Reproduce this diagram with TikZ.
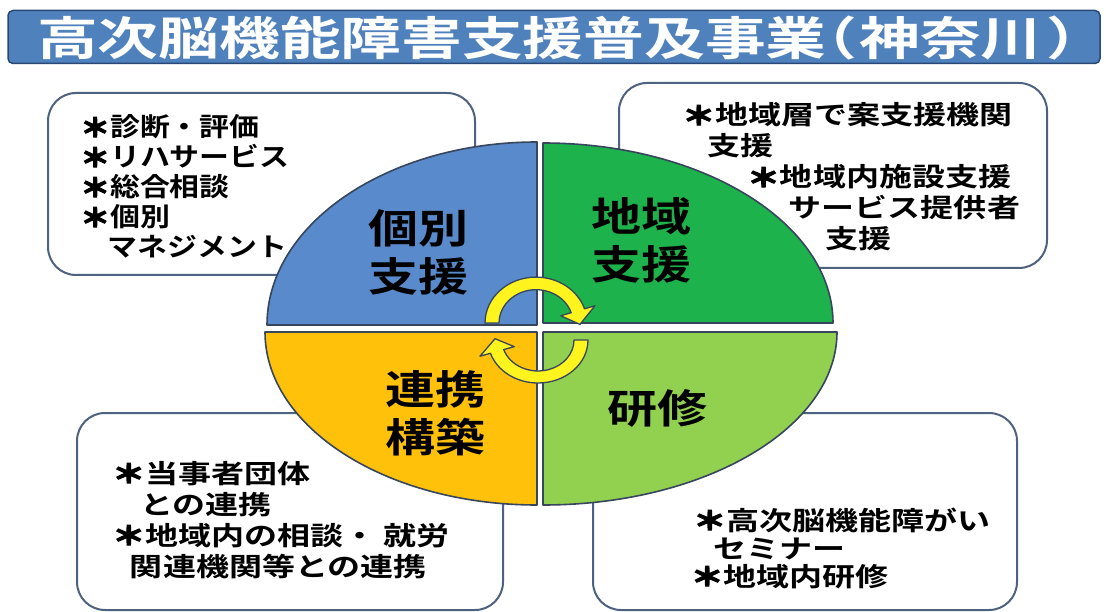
\documentclass[tikz,border=0pt]{standalone}
\usepackage{fontspec}
\setmainfont{Noto Sans CJK JP}[BoldFont={Noto Sans CJK JP Bold}]
\newfontfamily\astfont{Noto Sans CJK JP Bold}[FakeBold=4]
\usepackage{graphicx}
\definecolor{titlefill}{RGB}{79,129,189}
\definecolor{titleedge}{RGB}{42,72,118}
\definecolor{qblue}{RGB}{88,138,204}
\definecolor{qgreen}{RGB}{30,178,76}
\definecolor{qyellow}{RGB}{255,193,10}
\definecolor{qlight}{RGB}{146,208,80}
\definecolor{quadline}{RGB}{55,70,92}
\definecolor{boxline}{RGB}{78,98,128}
\definecolor{arrowfill}{RGB}{255,244,30}
\newcommand\ltext[2]{\scalebox{#1}[1]{\vtop{\lineskiplimit=-100pt\halign{##\hfil\cr#2\crcr}}}}
\newcommand\ctext[2]{\scalebox{#1}[1]{\vbox{\lineskiplimit=-100pt\halign{\hfil##\hfil\cr#2\crcr}}}}
\newcommand\myast{{\astfont ＊}}
\tikzset{
  titlebar/.style={draw=titleedge, line width=1.5pt, fill=titlefill, rounded corners=5pt, inner sep=0pt},
  infobox/.style={draw=boxline, line width=2pt, fill=white, rounded corners=28pt, inner sep=0pt},
  quad/.style={draw=quadline, line width=1.6pt, line join=round},
  cyc/.style={draw=quadline, line width=1.3pt, fill=arrowfill, line join=round},
  boxtext/.style={inner sep=0pt, anchor=base west, text=black},
  qlabel/.style={inner sep=0pt, text=black, font=\bfseries\fontsize{40}{48}\selectfont}
}
\begin{document}
\begin{tikzpicture}[x=1pt,y=-1pt]
\useasboundingbox (0,0) rectangle (1106,612);
\fill[white] (0,0) rectangle (1106,612);
% title
\node[titlebar, minimum width=1092pt, minimum height=53pt] (bar) at (554,37) {};
\node[inner sep=0pt, text=white, anchor=west, font=\bfseries\fontsize{46}{46}\selectfont] (ttl) at (37,38)
  {\scalebox{1.32}[1]{高次脳機能障害支援普及事業\kern-23pt（\kern2pt 神奈川\kern4pt ）\kern-25pt}};
% boxes
\node[infobox, minimum width=427pt, minimum height=182pt] (box1) at (261.5,184) {};
\node[infobox, minimum width=428pt, minimum height=185pt] (box2) at (833,175.5) {};
\node[infobox, minimum width=426pt, minimum height=197pt] (box3) at (290,511.5) {};
\node[infobox, minimum width=424pt, minimum height=197pt] (box4) at (805,511.5) {};
% quadrants
\path[quad, fill=qblue] (537,325) -- (267,325) arc[start angle=180, end angle=270, x radius=270, y radius=183] -- cycle;
\path[quad, fill=qgreen] (543,323) -- (543,143) arc[start angle=270, end angle=360, x radius=290, y radius=180] -- cycle;
\path[quad, fill=qyellow] (537,332) -- (537,505) arc[start angle=90, end angle=180, x radius=272, y radius=173] -- cycle;
\path[quad, fill=qlight] (543,332) -- (837,332) arc[start angle=0, end angle=90, x radius=294, y radius=173] -- cycle;
% cycle arrows
\begin{scope}[shift={(536,323)}, yscale=0.9]
\path[cyc] (180:51) arc[start angle=180, end angle=342, radius=51] -- (342:62) -- (2:44) -- (342:26) -- (342:37) arc[start angle=342, end angle=180, radius=37] -- cycle;
\end{scope}
\begin{scope}[shift={(538,340)}, yscale=0.86]
\path[cyc] (0:50) arc[start angle=0, end angle=162, radius=50] -- (162:61) -- (182:43) -- (162:25) -- (162:36) arc[start angle=162, end angle=0, radius=36] -- cycle;
\end{scope}
% quadrant labels
\node[qlabel] (q1) at (418,252) {\ctext{1.25}{個別\cr 支援}};
\node[qlabel] (q2) at (641,240) {\ctext{1.25}{地域\cr 支援}};
\node[qlabel] (q3) at (435,413) {\ctext{1.25}{連携\cr 構築}};
\node[qlabel] (q4) at (657,408) {\scalebox{1.25}[1]{研修}};
% box texts
\node[boxtext, font=\bfseries\fontsize{26}{30}\selectfont] (t1) at (80,137)
  {\ltext{1.15}{\myast 診断・評価\cr \myast リハサービス\cr \myast 総合相談\cr \myast 個別\cr \kern24pt マネジメント}};
\node[boxtext, font=\bfseries\fontsize{26}{31}\selectfont] (t2) at (682,125)
  {\ltext{1.27}{\myast 地域層で案支援機関\cr \kern20pt 支援\cr \kern51pt \myast 地域内施設支援\cr \kern84pt サービス提供者\cr \kern113pt 支援}};
\node[boxtext, font=\bfseries\fontsize{26}{31}\selectfont] (t3) at (112,483)
  {\ltext{1.27}{\myast 当事者団体\cr \kern22pt との連携\cr \myast 地域内の相談・ 就労\cr \kern14pt 関連機関等との連携}};
\node[boxtext, font=\bfseries\fontsize{26}{28}\selectfont] (t4) at (693,530)
  {\ltext{1.27}{\myast 高次脳機能障がい\cr \kern16pt セミナー\cr \kern-2pt \myast 地域内研修}};
\end{tikzpicture}
\end{document}
